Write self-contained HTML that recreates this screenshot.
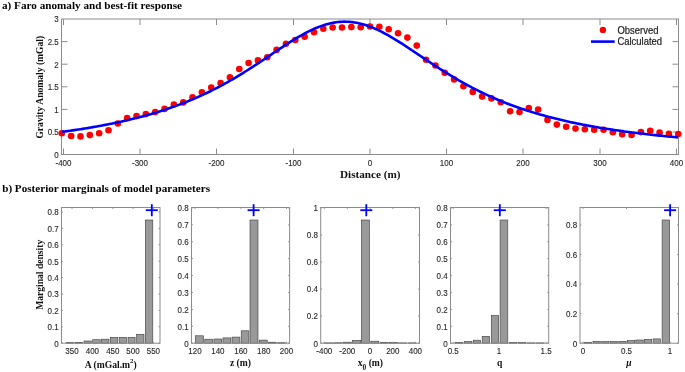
<!DOCTYPE html>
<html><head><meta charset="utf-8"><style>
html,body{margin:0;padding:0;background:#fff;}
body{width:685px;height:372px;overflow:hidden;}
svg{display:block;}
#w{will-change:transform;width:685px;height:372px;}
.tk{stroke:#262626;stroke-width:0.12px;}
</style></head><body>
<div id="w"><svg width="685" height="372" viewBox="0 0 685 372">
<rect width="685" height="372" fill="#fff"/>
<rect x="61.5" y="19.0" width="617.0" height="135.5" fill="none" stroke="#8c8c8c" stroke-width="1"/>
<line x1="63.5" y1="154.5" x2="63.5" y2="148.5" stroke="#8c8c8c" stroke-width="1"/>
<line x1="63.5" y1="19.0" x2="63.5" y2="25.0" stroke="#8c8c8c" stroke-width="1"/>
<text class="tk" transform="translate(63.5,165.9) scale(0.93,1)" font-size="8.6" text-anchor="middle" font-family='"Liberation Sans", sans-serif' fill="#262626">-400</text>
<line x1="140.0" y1="154.5" x2="140.0" y2="148.5" stroke="#8c8c8c" stroke-width="1"/>
<line x1="140.0" y1="19.0" x2="140.0" y2="25.0" stroke="#8c8c8c" stroke-width="1"/>
<text class="tk" transform="translate(140.0,165.9) scale(0.93,1)" font-size="8.6" text-anchor="middle" font-family='"Liberation Sans", sans-serif' fill="#262626">-300</text>
<line x1="216.5" y1="154.5" x2="216.5" y2="148.5" stroke="#8c8c8c" stroke-width="1"/>
<line x1="216.5" y1="19.0" x2="216.5" y2="25.0" stroke="#8c8c8c" stroke-width="1"/>
<text class="tk" transform="translate(216.5,165.9) scale(0.93,1)" font-size="8.6" text-anchor="middle" font-family='"Liberation Sans", sans-serif' fill="#262626">-200</text>
<line x1="293.5" y1="154.5" x2="293.5" y2="148.5" stroke="#8c8c8c" stroke-width="1"/>
<line x1="293.5" y1="19.0" x2="293.5" y2="25.0" stroke="#8c8c8c" stroke-width="1"/>
<text class="tk" transform="translate(293.5,165.9) scale(0.93,1)" font-size="8.6" text-anchor="middle" font-family='"Liberation Sans", sans-serif' fill="#262626">-100</text>
<line x1="370.0" y1="154.5" x2="370.0" y2="148.5" stroke="#8c8c8c" stroke-width="1"/>
<line x1="370.0" y1="19.0" x2="370.0" y2="25.0" stroke="#8c8c8c" stroke-width="1"/>
<text class="tk" transform="translate(370.0,165.9) scale(0.93,1)" font-size="8.6" text-anchor="middle" font-family='"Liberation Sans", sans-serif' fill="#262626">0</text>
<line x1="446.5" y1="154.5" x2="446.5" y2="148.5" stroke="#8c8c8c" stroke-width="1"/>
<line x1="446.5" y1="19.0" x2="446.5" y2="25.0" stroke="#8c8c8c" stroke-width="1"/>
<text class="tk" transform="translate(446.5,165.9) scale(0.93,1)" font-size="8.6" text-anchor="middle" font-family='"Liberation Sans", sans-serif' fill="#262626">100</text>
<line x1="523.0" y1="154.5" x2="523.0" y2="148.5" stroke="#8c8c8c" stroke-width="1"/>
<line x1="523.0" y1="19.0" x2="523.0" y2="25.0" stroke="#8c8c8c" stroke-width="1"/>
<text class="tk" transform="translate(523.0,165.9) scale(0.93,1)" font-size="8.6" text-anchor="middle" font-family='"Liberation Sans", sans-serif' fill="#262626">200</text>
<line x1="600.0" y1="154.5" x2="600.0" y2="148.5" stroke="#8c8c8c" stroke-width="1"/>
<line x1="600.0" y1="19.0" x2="600.0" y2="25.0" stroke="#8c8c8c" stroke-width="1"/>
<text class="tk" transform="translate(600.0,165.9) scale(0.93,1)" font-size="8.6" text-anchor="middle" font-family='"Liberation Sans", sans-serif' fill="#262626">300</text>
<line x1="676.5" y1="154.5" x2="676.5" y2="148.5" stroke="#8c8c8c" stroke-width="1"/>
<line x1="676.5" y1="19.0" x2="676.5" y2="25.0" stroke="#8c8c8c" stroke-width="1"/>
<text class="tk" transform="translate(676.5,165.9) scale(0.93,1)" font-size="8.6" text-anchor="middle" font-family='"Liberation Sans", sans-serif' fill="#262626">400</text>
<text class="tk" transform="translate(58.8,157.9) scale(0.93,1)" font-size="8.6" text-anchor="end" font-family='"Liberation Sans", sans-serif' fill="#262626">0</text>
<line x1="61.5" y1="132.0" x2="67.5" y2="132.0" stroke="#8c8c8c" stroke-width="1"/>
<line x1="678.5" y1="132.0" x2="672.5" y2="132.0" stroke="#8c8c8c" stroke-width="1"/>
<text class="tk" transform="translate(58.8,135.3) scale(0.93,1)" font-size="8.6" text-anchor="end" font-family='"Liberation Sans", sans-serif' fill="#262626">0.5</text>
<line x1="61.5" y1="109.39999999999999" x2="67.5" y2="109.39999999999999" stroke="#8c8c8c" stroke-width="1"/>
<line x1="678.5" y1="109.39999999999999" x2="672.5" y2="109.39999999999999" stroke="#8c8c8c" stroke-width="1"/>
<text class="tk" transform="translate(58.8,112.69999999999999) scale(0.93,1)" font-size="8.6" text-anchor="end" font-family='"Liberation Sans", sans-serif' fill="#262626">1</text>
<line x1="61.5" y1="86.79999999999998" x2="67.5" y2="86.79999999999998" stroke="#8c8c8c" stroke-width="1"/>
<line x1="678.5" y1="86.79999999999998" x2="672.5" y2="86.79999999999998" stroke="#8c8c8c" stroke-width="1"/>
<text class="tk" transform="translate(58.8,90.09999999999998) scale(0.93,1)" font-size="8.6" text-anchor="end" font-family='"Liberation Sans", sans-serif' fill="#262626">1.5</text>
<line x1="61.5" y1="64.19999999999999" x2="67.5" y2="64.19999999999999" stroke="#8c8c8c" stroke-width="1"/>
<line x1="678.5" y1="64.19999999999999" x2="672.5" y2="64.19999999999999" stroke="#8c8c8c" stroke-width="1"/>
<text class="tk" transform="translate(58.8,67.49999999999999) scale(0.93,1)" font-size="8.6" text-anchor="end" font-family='"Liberation Sans", sans-serif' fill="#262626">2</text>
<line x1="61.5" y1="41.599999999999994" x2="67.5" y2="41.599999999999994" stroke="#8c8c8c" stroke-width="1"/>
<line x1="678.5" y1="41.599999999999994" x2="672.5" y2="41.599999999999994" stroke="#8c8c8c" stroke-width="1"/>
<text class="tk" transform="translate(58.8,44.89999999999999) scale(0.93,1)" font-size="8.6" text-anchor="end" font-family='"Liberation Sans", sans-serif' fill="#262626">2.5</text>
<text class="tk" transform="translate(58.8,22.299999999999972) scale(0.93,1)" font-size="8.6" text-anchor="end" font-family='"Liberation Sans", sans-serif' fill="#262626">3</text>
<circle cx="61.80" cy="133.30" r="3.3" fill="#ff0000"/>
<circle cx="71.14" cy="136.00" r="3.3" fill="#ff0000"/>
<circle cx="80.48" cy="136.40" r="3.3" fill="#ff0000"/>
<circle cx="89.82" cy="135.10" r="3.3" fill="#ff0000"/>
<circle cx="99.16" cy="133.30" r="3.3" fill="#ff0000"/>
<circle cx="108.50" cy="130.20" r="3.3" fill="#ff0000"/>
<circle cx="117.84" cy="123.50" r="3.3" fill="#ff0000"/>
<circle cx="127.18" cy="118.10" r="3.3" fill="#ff0000"/>
<circle cx="136.52" cy="116.00" r="3.3" fill="#ff0000"/>
<circle cx="145.86" cy="114.10" r="3.3" fill="#ff0000"/>
<circle cx="155.20" cy="112.10" r="3.3" fill="#ff0000"/>
<circle cx="164.54" cy="108.90" r="3.3" fill="#ff0000"/>
<circle cx="173.88" cy="104.50" r="3.3" fill="#ff0000"/>
<circle cx="183.22" cy="102.40" r="3.3" fill="#ff0000"/>
<circle cx="192.56" cy="97.20" r="3.3" fill="#ff0000"/>
<circle cx="201.90" cy="92.20" r="3.3" fill="#ff0000"/>
<circle cx="211.24" cy="87.60" r="3.3" fill="#ff0000"/>
<circle cx="220.58" cy="83.00" r="3.3" fill="#ff0000"/>
<circle cx="229.92" cy="77.30" r="3.3" fill="#ff0000"/>
<circle cx="239.26" cy="69.00" r="3.3" fill="#ff0000"/>
<circle cx="248.60" cy="63.00" r="3.3" fill="#ff0000"/>
<circle cx="257.94" cy="60.40" r="3.3" fill="#ff0000"/>
<circle cx="267.28" cy="57.30" r="3.3" fill="#ff0000"/>
<circle cx="276.62" cy="49.90" r="3.3" fill="#ff0000"/>
<circle cx="285.96" cy="43.70" r="3.3" fill="#ff0000"/>
<circle cx="295.30" cy="40.00" r="3.3" fill="#ff0000"/>
<circle cx="304.64" cy="36.70" r="3.3" fill="#ff0000"/>
<circle cx="313.98" cy="32.30" r="3.3" fill="#ff0000"/>
<circle cx="323.32" cy="28.80" r="3.3" fill="#ff0000"/>
<circle cx="332.66" cy="27.50" r="3.3" fill="#ff0000"/>
<circle cx="342.00" cy="27.50" r="3.3" fill="#ff0000"/>
<circle cx="351.34" cy="27.10" r="3.3" fill="#ff0000"/>
<circle cx="360.68" cy="27.30" r="3.3" fill="#ff0000"/>
<circle cx="370.02" cy="26.50" r="3.3" fill="#ff0000"/>
<circle cx="379.36" cy="26.80" r="3.3" fill="#ff0000"/>
<circle cx="388.70" cy="29.20" r="3.3" fill="#ff0000"/>
<circle cx="398.04" cy="33.20" r="3.3" fill="#ff0000"/>
<circle cx="407.38" cy="37.60" r="3.3" fill="#ff0000"/>
<circle cx="416.72" cy="45.60" r="3.3" fill="#ff0000"/>
<circle cx="426.06" cy="59.80" r="3.3" fill="#ff0000"/>
<circle cx="435.40" cy="65.50" r="3.3" fill="#ff0000"/>
<circle cx="444.74" cy="72.70" r="3.3" fill="#ff0000"/>
<circle cx="454.08" cy="79.40" r="3.3" fill="#ff0000"/>
<circle cx="463.42" cy="86.30" r="3.3" fill="#ff0000"/>
<circle cx="472.76" cy="91.90" r="3.3" fill="#ff0000"/>
<circle cx="482.10" cy="96.60" r="3.3" fill="#ff0000"/>
<circle cx="491.44" cy="98.40" r="3.3" fill="#ff0000"/>
<circle cx="500.78" cy="102.30" r="3.3" fill="#ff0000"/>
<circle cx="510.12" cy="111.30" r="3.3" fill="#ff0000"/>
<circle cx="519.46" cy="112.00" r="3.3" fill="#ff0000"/>
<circle cx="528.80" cy="108.00" r="3.3" fill="#ff0000"/>
<circle cx="538.14" cy="109.50" r="3.3" fill="#ff0000"/>
<circle cx="547.48" cy="119.90" r="3.3" fill="#ff0000"/>
<circle cx="556.82" cy="124.60" r="3.3" fill="#ff0000"/>
<circle cx="566.16" cy="126.80" r="3.3" fill="#ff0000"/>
<circle cx="575.50" cy="128.60" r="3.3" fill="#ff0000"/>
<circle cx="584.84" cy="129.30" r="3.3" fill="#ff0000"/>
<circle cx="594.18" cy="129.70" r="3.3" fill="#ff0000"/>
<circle cx="603.52" cy="129.70" r="3.3" fill="#ff0000"/>
<circle cx="612.86" cy="132.30" r="3.3" fill="#ff0000"/>
<circle cx="622.20" cy="134.30" r="3.3" fill="#ff0000"/>
<circle cx="631.54" cy="135.00" r="3.3" fill="#ff0000"/>
<circle cx="640.88" cy="132.10" r="3.3" fill="#ff0000"/>
<circle cx="650.22" cy="130.80" r="3.3" fill="#ff0000"/>
<circle cx="659.56" cy="132.60" r="3.3" fill="#ff0000"/>
<circle cx="668.90" cy="133.90" r="3.3" fill="#ff0000"/>
<circle cx="678.24" cy="134.00" r="3.3" fill="#ff0000"/>
<path d="M62.00,131.85 L64.06,131.57 L66.12,131.29 L68.18,131.00 L70.24,130.71 L72.30,130.41 L74.36,130.11 L76.42,129.81 L78.48,129.50 L80.54,129.18 L82.60,128.86 L84.66,128.53 L86.72,128.19 L88.78,127.85 L90.84,127.51 L92.90,127.15 L94.96,126.80 L97.02,126.43 L99.08,126.06 L101.14,125.68 L103.20,125.29 L105.26,124.90 L107.32,124.50 L109.38,124.09 L111.44,123.68 L113.51,123.26 L115.57,122.83 L117.63,122.39 L119.69,121.94 L121.75,121.49 L123.81,121.03 L125.87,120.56 L127.93,120.08 L129.99,119.59 L132.05,119.09 L134.11,118.58 L136.17,118.06 L138.23,117.53 L140.29,117.00 L142.35,116.45 L144.41,115.89 L146.47,115.32 L148.53,114.74 L150.59,114.15 L152.65,113.55 L154.71,112.94 L156.77,112.31 L158.83,111.68 L160.89,111.03 L162.95,110.37 L165.01,109.69 L167.07,109.00 L169.13,108.30 L171.19,107.59 L173.25,106.86 L175.31,106.12 L177.37,105.37 L179.43,104.60 L181.49,103.81 L183.55,103.02 L185.61,102.20 L187.67,101.37 L189.73,100.53 L191.79,99.67 L193.85,98.80 L195.91,97.91 L197.97,97.00 L200.03,96.07 L202.09,95.13 L204.15,94.18 L206.21,93.21 L208.27,92.22 L210.33,91.21 L212.39,90.18 L214.45,89.14 L216.52,88.09 L218.58,87.01 L220.64,85.92 L222.70,84.81 L224.76,83.68 L226.82,82.54 L228.88,81.38 L230.94,80.20 L233.00,79.01 L235.06,77.80 L237.12,76.57 L239.18,75.33 L241.24,74.08 L243.30,72.81 L245.36,71.52 L247.42,70.23 L249.48,68.92 L251.54,67.59 L253.60,66.26 L255.66,64.92 L257.72,63.56 L259.78,62.20 L261.84,60.83 L263.90,59.46 L265.96,58.08 L268.02,56.70 L270.08,55.31 L272.14,53.92 L274.20,52.54 L276.26,51.16 L278.32,49.78 L280.38,48.41 L282.44,47.05 L284.50,45.69 L286.56,44.35 L288.62,43.03 L290.68,41.72 L292.74,40.44 L294.80,39.17 L296.86,37.93 L298.92,36.71 L300.98,35.53 L303.04,34.38 L305.10,33.26 L307.16,32.18 L309.22,31.14 L311.28,30.14 L313.34,29.18 L315.40,28.28 L317.46,27.42 L319.53,26.61 L321.59,25.86 L323.65,25.17 L325.71,24.53 L327.77,23.95 L329.83,23.44 L331.89,22.98 L333.95,22.60 L336.01,22.27 L338.07,22.02 L340.13,21.83 L342.19,21.71 L344.25,21.66 L346.31,21.68 L348.37,21.76 L350.43,21.92 L352.49,22.14 L354.55,22.43 L356.61,22.78 L358.67,23.20 L360.73,23.69 L362.79,24.24 L364.85,24.84 L366.91,25.51 L368.97,26.23 L371.03,27.01 L373.09,27.85 L375.15,28.73 L377.21,29.66 L379.27,30.64 L381.33,31.66 L383.39,32.72 L385.45,33.82 L387.51,34.96 L389.57,36.12 L391.63,37.32 L393.69,38.55 L395.75,39.81 L397.81,41.08 L399.87,42.38 L401.93,43.70 L403.99,45.03 L406.05,46.38 L408.11,47.73 L410.17,49.10 L412.23,50.47 L414.29,51.85 L416.35,53.24 L418.41,54.62 L420.47,56.01 L422.54,57.39 L424.60,58.78 L426.66,60.15 L428.72,61.53 L430.78,62.89 L432.84,64.25 L434.90,65.60 L436.96,66.94 L439.02,68.26 L441.08,69.58 L443.14,70.88 L445.20,72.18 L447.26,73.45 L449.32,74.72 L451.38,75.96 L453.44,77.20 L455.50,78.41 L457.56,79.61 L459.62,80.80 L461.68,81.97 L463.74,83.12 L465.80,84.25 L467.86,85.37 L469.92,86.47 L471.98,87.56 L474.04,88.62 L476.10,89.67 L478.16,90.70 L480.22,91.72 L482.28,92.72 L484.34,93.70 L486.40,94.66 L488.46,95.61 L490.52,96.54 L492.58,97.46 L494.64,98.36 L496.70,99.24 L498.76,100.11 L500.82,100.96 L502.88,101.79 L504.94,102.62 L507.00,103.42 L509.06,104.21 L511.12,104.99 L513.18,105.75 L515.24,106.50 L517.30,107.23 L519.36,107.95 L521.42,108.66 L523.48,109.35 L525.55,110.03 L527.61,110.70 L529.67,111.36 L531.73,112.00 L533.79,112.63 L535.85,113.25 L537.91,113.86 L539.97,114.45 L542.03,115.04 L544.09,115.61 L546.15,116.18 L548.21,116.73 L550.27,117.27 L552.33,117.80 L554.39,118.33 L556.45,118.84 L558.51,119.34 L560.57,119.84 L562.63,120.32 L564.69,120.80 L566.75,121.26 L568.81,121.72 L570.87,122.17 L572.93,122.61 L574.99,123.05 L577.05,123.47 L579.11,123.89 L581.17,124.30 L583.23,124.70 L585.29,125.10 L587.35,125.49 L589.41,125.87 L591.47,126.25 L593.53,126.62 L595.59,126.98 L597.65,127.33 L599.71,127.68 L601.77,128.03 L603.83,128.36 L605.89,128.69 L607.95,129.02 L610.01,129.34 L612.07,129.65 L614.13,129.96 L616.19,130.27 L618.25,130.56 L620.31,130.86 L622.37,131.15 L624.43,131.43 L626.49,131.71 L628.56,131.98 L630.62,132.25 L632.68,132.52 L634.74,132.78 L636.80,133.04 L638.86,133.29 L640.92,133.54 L642.98,133.78 L645.04,134.02 L647.10,134.26 L649.16,134.49 L651.22,134.72 L653.28,134.94 L655.34,135.16 L657.40,135.38 L659.46,135.60 L661.52,135.81 L663.58,136.01 L665.64,136.22 L667.70,136.42 L669.76,136.62 L671.82,136.81 L673.88,137.01 L675.94,137.20 L678.00,137.38" fill="none" stroke="#0000ff" stroke-width="2.6" stroke-linejoin="round"/>
<circle cx="602.9" cy="29.9" r="3.2" fill="#ff0000"/>
<line x1="591" y1="41.6" x2="614.7" y2="41.6" stroke="#0000ff" stroke-width="2.6"/>
<text transform="translate(617.4,34.0) scale(0.91,1)" font-size="10.4" font-family='"Liberation Sans", sans-serif' fill="#1a1a1a" stroke="#1a1a1a" stroke-width="0.2">Observed</text>
<text transform="translate(617.4,45.2) scale(0.91,1)" font-size="10.4" font-family='"Liberation Sans", sans-serif' fill="#1a1a1a" stroke="#1a1a1a" stroke-width="0.2">Calculated</text>
<text x="2.0" y="9.0" font-size="10.5" text-anchor="start" font-family='"Liberation Serif", serif' font-weight="bold" font-style="normal" fill="#000" textLength="180" lengthAdjust="spacingAndGlyphs">a) Faro anomaly and best-fit response</text>
<text x="370.3" y="177.6" font-size="10.5" text-anchor="middle" font-family='"Liberation Serif", serif' font-weight="bold" font-style="normal" fill="#111" textLength="60.5" lengthAdjust="spacingAndGlyphs">Distance (m)</text>
<text x="0" y="0" font-size="9.6" text-anchor="middle" font-family='"Liberation Serif", serif' font-weight="bold" font-style="normal" fill="#111" transform="translate(43.2,87.2) rotate(-90)">Gravity Anomaly (mGal)</text>
<text x="2.2" y="192.2" font-size="10.5" text-anchor="start" font-family='"Liberation Serif", serif' font-weight="bold" font-style="normal" fill="#000" textLength="207.8" lengthAdjust="spacingAndGlyphs">b) Posterior marginals of model parameters</text>
<rect x="66.10" y="342.50" width="7.40" height="0.70" fill="#999999" stroke="#3a3a3a" stroke-width="0.6"/>
<rect x="75.00" y="342.40" width="7.40" height="0.80" fill="#999999" stroke="#3a3a3a" stroke-width="0.6"/>
<rect x="84.00" y="341.00" width="7.30" height="2.20" fill="#999999" stroke="#3a3a3a" stroke-width="0.6"/>
<rect x="92.70" y="339.70" width="7.50" height="3.50" fill="#999999" stroke="#3a3a3a" stroke-width="0.6"/>
<rect x="101.40" y="339.20" width="7.60" height="4.00" fill="#999999" stroke="#3a3a3a" stroke-width="0.6"/>
<rect x="110.30" y="337.40" width="7.50" height="5.80" fill="#999999" stroke="#3a3a3a" stroke-width="0.6"/>
<rect x="119.20" y="337.30" width="7.20" height="5.90" fill="#999999" stroke="#3a3a3a" stroke-width="0.6"/>
<rect x="128.00" y="337.30" width="7.10" height="5.90" fill="#999999" stroke="#3a3a3a" stroke-width="0.6"/>
<rect x="136.60" y="334.30" width="7.40" height="8.90" fill="#999999" stroke="#3a3a3a" stroke-width="0.6"/>
<rect x="145.30" y="220.00" width="7.50" height="123.20" fill="#999999" stroke="#3a3a3a" stroke-width="0.6"/>
<rect x="61.5" y="207.5" width="98.5" height="135.7" fill="none" stroke="#8c8c8c" stroke-width="1"/>
<line x1="61.5" y1="343.2" x2="62.9" y2="343.2" stroke="#8c8c8c" stroke-width="1"/>
<line x1="160.0" y1="343.2" x2="158.6" y2="343.2" stroke="#8c8c8c" stroke-width="1"/>
<text class="tk" transform="translate(58.7,346.5) scale(0.93,1)" font-size="8.6" text-anchor="end" font-family='"Liberation Sans", sans-serif' fill="#262626">0</text>
<line x1="61.5" y1="326.8" x2="62.9" y2="326.8" stroke="#8c8c8c" stroke-width="1"/>
<line x1="160.0" y1="326.8" x2="158.6" y2="326.8" stroke="#8c8c8c" stroke-width="1"/>
<text class="tk" transform="translate(58.7,330.1) scale(0.93,1)" font-size="8.6" text-anchor="end" font-family='"Liberation Sans", sans-serif' fill="#262626">0.1</text>
<line x1="61.5" y1="310.4" x2="62.9" y2="310.4" stroke="#8c8c8c" stroke-width="1"/>
<line x1="160.0" y1="310.4" x2="158.6" y2="310.4" stroke="#8c8c8c" stroke-width="1"/>
<text class="tk" transform="translate(58.7,313.7) scale(0.93,1)" font-size="8.6" text-anchor="end" font-family='"Liberation Sans", sans-serif' fill="#262626">0.2</text>
<line x1="61.5" y1="294.0" x2="62.9" y2="294.0" stroke="#8c8c8c" stroke-width="1"/>
<line x1="160.0" y1="294.0" x2="158.6" y2="294.0" stroke="#8c8c8c" stroke-width="1"/>
<text class="tk" transform="translate(58.7,297.3) scale(0.93,1)" font-size="8.6" text-anchor="end" font-family='"Liberation Sans", sans-serif' fill="#262626">0.3</text>
<line x1="61.5" y1="277.6" x2="62.9" y2="277.6" stroke="#8c8c8c" stroke-width="1"/>
<line x1="160.0" y1="277.6" x2="158.6" y2="277.6" stroke="#8c8c8c" stroke-width="1"/>
<text class="tk" transform="translate(58.7,280.90000000000003) scale(0.93,1)" font-size="8.6" text-anchor="end" font-family='"Liberation Sans", sans-serif' fill="#262626">0.4</text>
<line x1="61.5" y1="261.2" x2="62.9" y2="261.2" stroke="#8c8c8c" stroke-width="1"/>
<line x1="160.0" y1="261.2" x2="158.6" y2="261.2" stroke="#8c8c8c" stroke-width="1"/>
<text class="tk" transform="translate(58.7,264.5) scale(0.93,1)" font-size="8.6" text-anchor="end" font-family='"Liberation Sans", sans-serif' fill="#262626">0.5</text>
<line x1="61.5" y1="244.8" x2="62.9" y2="244.8" stroke="#8c8c8c" stroke-width="1"/>
<line x1="160.0" y1="244.8" x2="158.6" y2="244.8" stroke="#8c8c8c" stroke-width="1"/>
<text class="tk" transform="translate(58.7,248.10000000000002) scale(0.93,1)" font-size="8.6" text-anchor="end" font-family='"Liberation Sans", sans-serif' fill="#262626">0.6</text>
<line x1="61.5" y1="228.4" x2="62.9" y2="228.4" stroke="#8c8c8c" stroke-width="1"/>
<line x1="160.0" y1="228.4" x2="158.6" y2="228.4" stroke="#8c8c8c" stroke-width="1"/>
<text class="tk" transform="translate(58.7,231.70000000000002) scale(0.93,1)" font-size="8.6" text-anchor="end" font-family='"Liberation Sans", sans-serif' fill="#262626">0.7</text>
<line x1="61.5" y1="212.0" x2="62.9" y2="212.0" stroke="#8c8c8c" stroke-width="1"/>
<line x1="160.0" y1="212.0" x2="158.6" y2="212.0" stroke="#8c8c8c" stroke-width="1"/>
<text class="tk" transform="translate(58.7,215.3) scale(0.93,1)" font-size="8.6" text-anchor="end" font-family='"Liberation Sans", sans-serif' fill="#262626">0.8</text>
<line x1="72" y1="343.2" x2="72" y2="341.8" stroke="#8c8c8c" stroke-width="1"/>
<line x1="72" y1="207.5" x2="72" y2="208.9" stroke="#8c8c8c" stroke-width="1"/>
<text class="tk" transform="translate(72,354.4) scale(0.93,1)" font-size="8.6" text-anchor="middle" font-family='"Liberation Sans", sans-serif' fill="#262626">350</text>
<line x1="92.4" y1="343.2" x2="92.4" y2="341.8" stroke="#8c8c8c" stroke-width="1"/>
<line x1="92.4" y1="207.5" x2="92.4" y2="208.9" stroke="#8c8c8c" stroke-width="1"/>
<text class="tk" transform="translate(92.4,354.4) scale(0.93,1)" font-size="8.6" text-anchor="middle" font-family='"Liberation Sans", sans-serif' fill="#262626">400</text>
<line x1="112.8" y1="343.2" x2="112.8" y2="341.8" stroke="#8c8c8c" stroke-width="1"/>
<line x1="112.8" y1="207.5" x2="112.8" y2="208.9" stroke="#8c8c8c" stroke-width="1"/>
<text class="tk" transform="translate(112.8,354.4) scale(0.93,1)" font-size="8.6" text-anchor="middle" font-family='"Liberation Sans", sans-serif' fill="#262626">450</text>
<line x1="133" y1="343.2" x2="133" y2="341.8" stroke="#8c8c8c" stroke-width="1"/>
<line x1="133" y1="207.5" x2="133" y2="208.9" stroke="#8c8c8c" stroke-width="1"/>
<text class="tk" transform="translate(133,354.4) scale(0.93,1)" font-size="8.6" text-anchor="middle" font-family='"Liberation Sans", sans-serif' fill="#262626">500</text>
<line x1="153.4" y1="343.2" x2="153.4" y2="341.8" stroke="#8c8c8c" stroke-width="1"/>
<line x1="153.4" y1="207.5" x2="153.4" y2="208.9" stroke="#8c8c8c" stroke-width="1"/>
<text class="tk" transform="translate(153.4,354.4) scale(0.93,1)" font-size="8.6" text-anchor="middle" font-family='"Liberation Sans", sans-serif' fill="#262626">550</text>
<line x1="145.8" y1="210.2" x2="157.8" y2="210.2" stroke="#0000ff" stroke-width="1.8"/>
<line x1="151.8" y1="204.2" x2="151.8" y2="216.2" stroke="#0000ff" stroke-width="1.8"/>
<text x="110.7" y="368.2" font-size="9.6" text-anchor="middle" font-family='"Liberation Serif", serif' font-weight="bold" font-style="normal" fill="#111" >A (mGal.m<tspan dy="-5.3" font-size="6.8">2</tspan><tspan dy="5.3">)</tspan></text>
<rect x="195.40" y="335.80" width="8.10" height="7.40" fill="#999999" stroke="#3a3a3a" stroke-width="0.6"/>
<rect x="204.80" y="339.20" width="7.80" height="4.00" fill="#999999" stroke="#3a3a3a" stroke-width="0.6"/>
<rect x="213.90" y="339.00" width="7.70" height="4.20" fill="#999999" stroke="#3a3a3a" stroke-width="0.6"/>
<rect x="222.90" y="337.90" width="7.90" height="5.30" fill="#999999" stroke="#3a3a3a" stroke-width="0.6"/>
<rect x="232.00" y="337.10" width="7.90" height="6.10" fill="#999999" stroke="#3a3a3a" stroke-width="0.6"/>
<rect x="241.20" y="330.80" width="7.70" height="12.40" fill="#999999" stroke="#3a3a3a" stroke-width="0.6"/>
<rect x="250.00" y="220.00" width="8.00" height="123.20" fill="#999999" stroke="#3a3a3a" stroke-width="0.6"/>
<rect x="259.20" y="340.10" width="8.00" height="3.10" fill="#999999" stroke="#3a3a3a" stroke-width="0.6"/>
<rect x="268.30" y="342.20" width="7.90" height="1.00" fill="#999999" stroke="#3a3a3a" stroke-width="0.6"/>
<rect x="277.70" y="342.70" width="7.70" height="0.50" fill="#999999" stroke="#3a3a3a" stroke-width="0.6"/>
<rect x="191.5" y="207.5" width="98.10000000000002" height="135.7" fill="none" stroke="#8c8c8c" stroke-width="1"/>
<line x1="191.5" y1="343.2" x2="192.9" y2="343.2" stroke="#8c8c8c" stroke-width="1"/>
<line x1="289.6" y1="343.2" x2="288.20000000000005" y2="343.2" stroke="#8c8c8c" stroke-width="1"/>
<text class="tk" transform="translate(188.7,346.5) scale(0.93,1)" font-size="8.6" text-anchor="end" font-family='"Liberation Sans", sans-serif' fill="#262626">0</text>
<line x1="191.5" y1="326.28999999999996" x2="192.9" y2="326.28999999999996" stroke="#8c8c8c" stroke-width="1"/>
<line x1="289.6" y1="326.28999999999996" x2="288.20000000000005" y2="326.28999999999996" stroke="#8c8c8c" stroke-width="1"/>
<text class="tk" transform="translate(188.7,329.59) scale(0.93,1)" font-size="8.6" text-anchor="end" font-family='"Liberation Sans", sans-serif' fill="#262626">0.1</text>
<line x1="191.5" y1="309.38" x2="192.9" y2="309.38" stroke="#8c8c8c" stroke-width="1"/>
<line x1="289.6" y1="309.38" x2="288.20000000000005" y2="309.38" stroke="#8c8c8c" stroke-width="1"/>
<text class="tk" transform="translate(188.7,312.68) scale(0.93,1)" font-size="8.6" text-anchor="end" font-family='"Liberation Sans", sans-serif' fill="#262626">0.2</text>
<line x1="191.5" y1="292.46999999999997" x2="192.9" y2="292.46999999999997" stroke="#8c8c8c" stroke-width="1"/>
<line x1="289.6" y1="292.46999999999997" x2="288.20000000000005" y2="292.46999999999997" stroke="#8c8c8c" stroke-width="1"/>
<text class="tk" transform="translate(188.7,295.77) scale(0.93,1)" font-size="8.6" text-anchor="end" font-family='"Liberation Sans", sans-serif' fill="#262626">0.3</text>
<line x1="191.5" y1="275.56" x2="192.9" y2="275.56" stroke="#8c8c8c" stroke-width="1"/>
<line x1="289.6" y1="275.56" x2="288.20000000000005" y2="275.56" stroke="#8c8c8c" stroke-width="1"/>
<text class="tk" transform="translate(188.7,278.86) scale(0.93,1)" font-size="8.6" text-anchor="end" font-family='"Liberation Sans", sans-serif' fill="#262626">0.4</text>
<line x1="191.5" y1="258.65" x2="192.9" y2="258.65" stroke="#8c8c8c" stroke-width="1"/>
<line x1="289.6" y1="258.65" x2="288.20000000000005" y2="258.65" stroke="#8c8c8c" stroke-width="1"/>
<text class="tk" transform="translate(188.7,261.95) scale(0.93,1)" font-size="8.6" text-anchor="end" font-family='"Liberation Sans", sans-serif' fill="#262626">0.5</text>
<line x1="191.5" y1="241.73999999999998" x2="192.9" y2="241.73999999999998" stroke="#8c8c8c" stroke-width="1"/>
<line x1="289.6" y1="241.73999999999998" x2="288.20000000000005" y2="241.73999999999998" stroke="#8c8c8c" stroke-width="1"/>
<text class="tk" transform="translate(188.7,245.04) scale(0.93,1)" font-size="8.6" text-anchor="end" font-family='"Liberation Sans", sans-serif' fill="#262626">0.6</text>
<line x1="191.5" y1="224.82999999999998" x2="192.9" y2="224.82999999999998" stroke="#8c8c8c" stroke-width="1"/>
<line x1="289.6" y1="224.82999999999998" x2="288.20000000000005" y2="224.82999999999998" stroke="#8c8c8c" stroke-width="1"/>
<text class="tk" transform="translate(188.7,228.13) scale(0.93,1)" font-size="8.6" text-anchor="end" font-family='"Liberation Sans", sans-serif' fill="#262626">0.7</text>
<line x1="191.5" y1="207.92" x2="192.9" y2="207.92" stroke="#8c8c8c" stroke-width="1"/>
<line x1="289.6" y1="207.92" x2="288.20000000000005" y2="207.92" stroke="#8c8c8c" stroke-width="1"/>
<text class="tk" transform="translate(188.7,211.22) scale(0.93,1)" font-size="8.6" text-anchor="end" font-family='"Liberation Sans", sans-serif' fill="#262626">0.8</text>
<line x1="195" y1="343.2" x2="195" y2="341.8" stroke="#8c8c8c" stroke-width="1"/>
<line x1="195" y1="207.5" x2="195" y2="208.9" stroke="#8c8c8c" stroke-width="1"/>
<text class="tk" transform="translate(195,354.4) scale(0.93,1)" font-size="8.6" text-anchor="middle" font-family='"Liberation Sans", sans-serif' fill="#262626">120</text>
<line x1="217.9" y1="343.2" x2="217.9" y2="341.8" stroke="#8c8c8c" stroke-width="1"/>
<line x1="217.9" y1="207.5" x2="217.9" y2="208.9" stroke="#8c8c8c" stroke-width="1"/>
<text class="tk" transform="translate(217.9,354.4) scale(0.93,1)" font-size="8.6" text-anchor="middle" font-family='"Liberation Sans", sans-serif' fill="#262626">140</text>
<line x1="240.9" y1="343.2" x2="240.9" y2="341.8" stroke="#8c8c8c" stroke-width="1"/>
<line x1="240.9" y1="207.5" x2="240.9" y2="208.9" stroke="#8c8c8c" stroke-width="1"/>
<text class="tk" transform="translate(240.9,354.4) scale(0.93,1)" font-size="8.6" text-anchor="middle" font-family='"Liberation Sans", sans-serif' fill="#262626">160</text>
<line x1="263.7" y1="343.2" x2="263.7" y2="341.8" stroke="#8c8c8c" stroke-width="1"/>
<line x1="263.7" y1="207.5" x2="263.7" y2="208.9" stroke="#8c8c8c" stroke-width="1"/>
<text class="tk" transform="translate(263.7,354.4) scale(0.93,1)" font-size="8.6" text-anchor="middle" font-family='"Liberation Sans", sans-serif' fill="#262626">180</text>
<line x1="286.5" y1="343.2" x2="286.5" y2="341.8" stroke="#8c8c8c" stroke-width="1"/>
<line x1="286.5" y1="207.5" x2="286.5" y2="208.9" stroke="#8c8c8c" stroke-width="1"/>
<text class="tk" transform="translate(286.5,354.4) scale(0.93,1)" font-size="8.6" text-anchor="middle" font-family='"Liberation Sans", sans-serif' fill="#262626">200</text>
<line x1="247.6" y1="210.2" x2="259.6" y2="210.2" stroke="#0000ff" stroke-width="1.8"/>
<line x1="253.6" y1="204.2" x2="253.6" y2="216.2" stroke="#0000ff" stroke-width="1.8"/>
<text x="240.4" y="365.9" font-size="9.6" text-anchor="middle" font-family='"Liberation Serif", serif' font-weight="bold" font-style="normal" fill="#111" >z (m)</text>
<rect x="324.30" y="342.90" width="8.90" height="0.30" fill="#999999" stroke="#3a3a3a" stroke-width="0.6"/>
<rect x="334.00" y="342.80" width="8.20" height="0.40" fill="#999999" stroke="#3a3a3a" stroke-width="0.6"/>
<rect x="343.20" y="342.20" width="8.40" height="1.00" fill="#999999" stroke="#3a3a3a" stroke-width="0.6"/>
<rect x="352.50" y="340.30" width="8.20" height="2.90" fill="#999999" stroke="#3a3a3a" stroke-width="0.6"/>
<rect x="361.40" y="220.00" width="8.00" height="123.20" fill="#999999" stroke="#3a3a3a" stroke-width="0.6"/>
<rect x="370.80" y="341.20" width="8.00" height="2.00" fill="#999999" stroke="#3a3a3a" stroke-width="0.6"/>
<rect x="380.20" y="342.30" width="8.00" height="0.90" fill="#999999" stroke="#3a3a3a" stroke-width="0.6"/>
<rect x="389.60" y="342.60" width="7.70" height="0.60" fill="#999999" stroke="#3a3a3a" stroke-width="0.6"/>
<rect x="398.60" y="342.90" width="8.10" height="0.30" fill="#999999" stroke="#3a3a3a" stroke-width="0.6"/>
<rect x="408.20" y="342.90" width="7.90" height="0.30" fill="#999999" stroke="#3a3a3a" stroke-width="0.6"/>
<rect x="320.7" y="207.5" width="98.80000000000001" height="135.7" fill="none" stroke="#8c8c8c" stroke-width="1"/>
<line x1="320.7" y1="343.2" x2="322.09999999999997" y2="343.2" stroke="#8c8c8c" stroke-width="1"/>
<line x1="419.5" y1="343.2" x2="418.1" y2="343.2" stroke="#8c8c8c" stroke-width="1"/>
<text class="tk" transform="translate(317.9,346.5) scale(0.93,1)" font-size="8.6" text-anchor="end" font-family='"Liberation Sans", sans-serif' fill="#262626">0</text>
<line x1="320.7" y1="316.1" x2="322.09999999999997" y2="316.1" stroke="#8c8c8c" stroke-width="1"/>
<line x1="419.5" y1="316.1" x2="418.1" y2="316.1" stroke="#8c8c8c" stroke-width="1"/>
<text class="tk" transform="translate(317.9,319.40000000000003) scale(0.93,1)" font-size="8.6" text-anchor="end" font-family='"Liberation Sans", sans-serif' fill="#262626">0.2</text>
<line x1="320.7" y1="289.1" x2="322.09999999999997" y2="289.1" stroke="#8c8c8c" stroke-width="1"/>
<line x1="419.5" y1="289.1" x2="418.1" y2="289.1" stroke="#8c8c8c" stroke-width="1"/>
<text class="tk" transform="translate(317.9,292.40000000000003) scale(0.93,1)" font-size="8.6" text-anchor="end" font-family='"Liberation Sans", sans-serif' fill="#262626">0.4</text>
<line x1="320.7" y1="262.0" x2="322.09999999999997" y2="262.0" stroke="#8c8c8c" stroke-width="1"/>
<line x1="419.5" y1="262.0" x2="418.1" y2="262.0" stroke="#8c8c8c" stroke-width="1"/>
<text class="tk" transform="translate(317.9,265.3) scale(0.93,1)" font-size="8.6" text-anchor="end" font-family='"Liberation Sans", sans-serif' fill="#262626">0.6</text>
<line x1="320.7" y1="235.0" x2="322.09999999999997" y2="235.0" stroke="#8c8c8c" stroke-width="1"/>
<line x1="419.5" y1="235.0" x2="418.1" y2="235.0" stroke="#8c8c8c" stroke-width="1"/>
<text class="tk" transform="translate(317.9,238.3) scale(0.93,1)" font-size="8.6" text-anchor="end" font-family='"Liberation Sans", sans-serif' fill="#262626">0.8</text>
<line x1="320.7" y1="207.9" x2="322.09999999999997" y2="207.9" stroke="#8c8c8c" stroke-width="1"/>
<line x1="419.5" y1="207.9" x2="418.1" y2="207.9" stroke="#8c8c8c" stroke-width="1"/>
<text class="tk" transform="translate(317.9,211.20000000000002) scale(0.93,1)" font-size="8.6" text-anchor="end" font-family='"Liberation Sans", sans-serif' fill="#262626">1</text>
<line x1="324.3" y1="343.2" x2="324.3" y2="341.8" stroke="#8c8c8c" stroke-width="1"/>
<line x1="324.3" y1="207.5" x2="324.3" y2="208.9" stroke="#8c8c8c" stroke-width="1"/>
<text class="tk" transform="translate(324.3,354.4) scale(0.93,1)" font-size="8.6" text-anchor="middle" font-family='"Liberation Sans", sans-serif' fill="#262626">-400</text>
<line x1="347.3" y1="343.2" x2="347.3" y2="341.8" stroke="#8c8c8c" stroke-width="1"/>
<line x1="347.3" y1="207.5" x2="347.3" y2="208.9" stroke="#8c8c8c" stroke-width="1"/>
<text class="tk" transform="translate(347.3,354.4) scale(0.93,1)" font-size="8.6" text-anchor="middle" font-family='"Liberation Sans", sans-serif' fill="#262626">-200</text>
<line x1="370.1" y1="343.2" x2="370.1" y2="341.8" stroke="#8c8c8c" stroke-width="1"/>
<line x1="370.1" y1="207.5" x2="370.1" y2="208.9" stroke="#8c8c8c" stroke-width="1"/>
<text class="tk" transform="translate(370.1,354.4) scale(0.93,1)" font-size="8.6" text-anchor="middle" font-family='"Liberation Sans", sans-serif' fill="#262626">0</text>
<line x1="392.8" y1="343.2" x2="392.8" y2="341.8" stroke="#8c8c8c" stroke-width="1"/>
<line x1="392.8" y1="207.5" x2="392.8" y2="208.9" stroke="#8c8c8c" stroke-width="1"/>
<text class="tk" transform="translate(392.8,354.4) scale(0.93,1)" font-size="8.6" text-anchor="middle" font-family='"Liberation Sans", sans-serif' fill="#262626">200</text>
<line x1="415.4" y1="343.2" x2="415.4" y2="341.8" stroke="#8c8c8c" stroke-width="1"/>
<line x1="415.4" y1="207.5" x2="415.4" y2="208.9" stroke="#8c8c8c" stroke-width="1"/>
<text class="tk" transform="translate(415.4,354.4) scale(0.93,1)" font-size="8.6" text-anchor="middle" font-family='"Liberation Sans", sans-serif' fill="#262626">400</text>
<line x1="360.3" y1="210.2" x2="372.3" y2="210.2" stroke="#0000ff" stroke-width="1.8"/>
<line x1="366.3" y1="204.2" x2="366.3" y2="216.2" stroke="#0000ff" stroke-width="1.8"/>
<text x="370.4" y="365.9" font-size="9.6" text-anchor="middle" font-family='"Liberation Serif", serif' font-weight="bold" font-style="normal" fill="#111" >x<tspan dy="4" font-size="7.4">0</tspan><tspan dy="-4"> (m)</tspan></text>
<rect x="455.10" y="342.50" width="7.70" height="0.70" fill="#999999" stroke="#3a3a3a" stroke-width="0.6"/>
<rect x="464.20" y="341.50" width="7.80" height="1.70" fill="#999999" stroke="#3a3a3a" stroke-width="0.6"/>
<rect x="473.30" y="340.20" width="7.40" height="3.00" fill="#999999" stroke="#3a3a3a" stroke-width="0.6"/>
<rect x="482.20" y="336.30" width="7.40" height="6.90" fill="#999999" stroke="#3a3a3a" stroke-width="0.6"/>
<rect x="491.30" y="315.50" width="7.40" height="27.70" fill="#999999" stroke="#3a3a3a" stroke-width="0.6"/>
<rect x="500.10" y="220.00" width="7.70" height="123.20" fill="#999999" stroke="#3a3a3a" stroke-width="0.6"/>
<rect x="509.30" y="342.60" width="7.60" height="0.60" fill="#999999" stroke="#3a3a3a" stroke-width="0.6"/>
<rect x="518.40" y="342.60" width="7.40" height="0.60" fill="#999999" stroke="#3a3a3a" stroke-width="0.6"/>
<rect x="527.10" y="342.90" width="7.80" height="0.30" fill="#999999" stroke="#3a3a3a" stroke-width="0.6"/>
<rect x="536.20" y="342.90" width="7.80" height="0.30" fill="#999999" stroke="#3a3a3a" stroke-width="0.6"/>
<rect x="450.5" y="207.5" width="98.20000000000005" height="135.7" fill="none" stroke="#8c8c8c" stroke-width="1"/>
<line x1="450.5" y1="343.2" x2="451.9" y2="343.2" stroke="#8c8c8c" stroke-width="1"/>
<line x1="548.7" y1="343.2" x2="547.3000000000001" y2="343.2" stroke="#8c8c8c" stroke-width="1"/>
<text class="tk" transform="translate(447.7,346.5) scale(0.93,1)" font-size="8.6" text-anchor="end" font-family='"Liberation Sans", sans-serif' fill="#262626">0</text>
<line x1="450.5" y1="326.28999999999996" x2="451.9" y2="326.28999999999996" stroke="#8c8c8c" stroke-width="1"/>
<line x1="548.7" y1="326.28999999999996" x2="547.3000000000001" y2="326.28999999999996" stroke="#8c8c8c" stroke-width="1"/>
<text class="tk" transform="translate(447.7,329.59) scale(0.93,1)" font-size="8.6" text-anchor="end" font-family='"Liberation Sans", sans-serif' fill="#262626">0.1</text>
<line x1="450.5" y1="309.38" x2="451.9" y2="309.38" stroke="#8c8c8c" stroke-width="1"/>
<line x1="548.7" y1="309.38" x2="547.3000000000001" y2="309.38" stroke="#8c8c8c" stroke-width="1"/>
<text class="tk" transform="translate(447.7,312.68) scale(0.93,1)" font-size="8.6" text-anchor="end" font-family='"Liberation Sans", sans-serif' fill="#262626">0.2</text>
<line x1="450.5" y1="292.46999999999997" x2="451.9" y2="292.46999999999997" stroke="#8c8c8c" stroke-width="1"/>
<line x1="548.7" y1="292.46999999999997" x2="547.3000000000001" y2="292.46999999999997" stroke="#8c8c8c" stroke-width="1"/>
<text class="tk" transform="translate(447.7,295.77) scale(0.93,1)" font-size="8.6" text-anchor="end" font-family='"Liberation Sans", sans-serif' fill="#262626">0.3</text>
<line x1="450.5" y1="275.56" x2="451.9" y2="275.56" stroke="#8c8c8c" stroke-width="1"/>
<line x1="548.7" y1="275.56" x2="547.3000000000001" y2="275.56" stroke="#8c8c8c" stroke-width="1"/>
<text class="tk" transform="translate(447.7,278.86) scale(0.93,1)" font-size="8.6" text-anchor="end" font-family='"Liberation Sans", sans-serif' fill="#262626">0.4</text>
<line x1="450.5" y1="258.65" x2="451.9" y2="258.65" stroke="#8c8c8c" stroke-width="1"/>
<line x1="548.7" y1="258.65" x2="547.3000000000001" y2="258.65" stroke="#8c8c8c" stroke-width="1"/>
<text class="tk" transform="translate(447.7,261.95) scale(0.93,1)" font-size="8.6" text-anchor="end" font-family='"Liberation Sans", sans-serif' fill="#262626">0.5</text>
<line x1="450.5" y1="241.73999999999998" x2="451.9" y2="241.73999999999998" stroke="#8c8c8c" stroke-width="1"/>
<line x1="548.7" y1="241.73999999999998" x2="547.3000000000001" y2="241.73999999999998" stroke="#8c8c8c" stroke-width="1"/>
<text class="tk" transform="translate(447.7,245.04) scale(0.93,1)" font-size="8.6" text-anchor="end" font-family='"Liberation Sans", sans-serif' fill="#262626">0.6</text>
<line x1="450.5" y1="224.82999999999998" x2="451.9" y2="224.82999999999998" stroke="#8c8c8c" stroke-width="1"/>
<line x1="548.7" y1="224.82999999999998" x2="547.3000000000001" y2="224.82999999999998" stroke="#8c8c8c" stroke-width="1"/>
<text class="tk" transform="translate(447.7,228.13) scale(0.93,1)" font-size="8.6" text-anchor="end" font-family='"Liberation Sans", sans-serif' fill="#262626">0.7</text>
<line x1="450.5" y1="207.92" x2="451.9" y2="207.92" stroke="#8c8c8c" stroke-width="1"/>
<line x1="548.7" y1="207.92" x2="547.3000000000001" y2="207.92" stroke="#8c8c8c" stroke-width="1"/>
<text class="tk" transform="translate(447.7,211.22) scale(0.93,1)" font-size="8.6" text-anchor="end" font-family='"Liberation Sans", sans-serif' fill="#262626">0.8</text>
<line x1="453.2" y1="343.2" x2="453.2" y2="341.8" stroke="#8c8c8c" stroke-width="1"/>
<line x1="453.2" y1="207.5" x2="453.2" y2="208.9" stroke="#8c8c8c" stroke-width="1"/>
<text class="tk" transform="translate(453.2,354.4) scale(0.93,1)" font-size="8.6" text-anchor="middle" font-family='"Liberation Sans", sans-serif' fill="#262626">0.5</text>
<line x1="499" y1="343.2" x2="499" y2="341.8" stroke="#8c8c8c" stroke-width="1"/>
<line x1="499" y1="207.5" x2="499" y2="208.9" stroke="#8c8c8c" stroke-width="1"/>
<text class="tk" transform="translate(499,354.4) scale(0.93,1)" font-size="8.6" text-anchor="middle" font-family='"Liberation Sans", sans-serif' fill="#262626">1</text>
<line x1="546.1" y1="343.2" x2="546.1" y2="341.8" stroke="#8c8c8c" stroke-width="1"/>
<line x1="546.1" y1="207.5" x2="546.1" y2="208.9" stroke="#8c8c8c" stroke-width="1"/>
<text class="tk" transform="translate(546.1,354.4) scale(0.93,1)" font-size="8.6" text-anchor="middle" font-family='"Liberation Sans", sans-serif' fill="#262626">1.5</text>
<line x1="493.8" y1="210.2" x2="505.8" y2="210.2" stroke="#0000ff" stroke-width="1.8"/>
<line x1="499.8" y1="204.2" x2="499.8" y2="216.2" stroke="#0000ff" stroke-width="1.8"/>
<text x="499.6" y="365.9" font-size="9.6" text-anchor="middle" font-family='"Liberation Serif", serif' font-weight="bold" font-style="normal" fill="#111" >q</text>
<rect x="584.00" y="342.50" width="7.70" height="0.70" fill="#999999" stroke="#3a3a3a" stroke-width="0.6"/>
<rect x="593.00" y="341.40" width="7.40" height="1.80" fill="#999999" stroke="#3a3a3a" stroke-width="0.6"/>
<rect x="601.80" y="341.60" width="7.30" height="1.60" fill="#999999" stroke="#3a3a3a" stroke-width="0.6"/>
<rect x="610.30" y="341.60" width="7.30" height="1.60" fill="#999999" stroke="#3a3a3a" stroke-width="0.6"/>
<rect x="618.80" y="341.40" width="7.30" height="1.80" fill="#999999" stroke="#3a3a3a" stroke-width="0.6"/>
<rect x="627.30" y="340.60" width="7.40" height="2.60" fill="#999999" stroke="#3a3a3a" stroke-width="0.6"/>
<rect x="635.80" y="340.00" width="7.40" height="3.20" fill="#999999" stroke="#3a3a3a" stroke-width="0.6"/>
<rect x="644.30" y="339.40" width="7.40" height="3.80" fill="#999999" stroke="#3a3a3a" stroke-width="0.6"/>
<rect x="653.10" y="338.90" width="7.30" height="4.30" fill="#999999" stroke="#3a3a3a" stroke-width="0.6"/>
<rect x="662.10" y="220.00" width="7.60" height="123.20" fill="#999999" stroke="#3a3a3a" stroke-width="0.6"/>
<rect x="580.0" y="207.5" width="98.5" height="135.7" fill="none" stroke="#8c8c8c" stroke-width="1"/>
<line x1="580.0" y1="343.2" x2="581.4" y2="343.2" stroke="#8c8c8c" stroke-width="1"/>
<line x1="678.5" y1="343.2" x2="677.1" y2="343.2" stroke="#8c8c8c" stroke-width="1"/>
<text class="tk" transform="translate(577.2,346.5) scale(0.93,1)" font-size="8.6" text-anchor="end" font-family='"Liberation Sans", sans-serif' fill="#262626">0</text>
<line x1="580.0" y1="313.7" x2="581.4" y2="313.7" stroke="#8c8c8c" stroke-width="1"/>
<line x1="678.5" y1="313.7" x2="677.1" y2="313.7" stroke="#8c8c8c" stroke-width="1"/>
<text class="tk" transform="translate(577.2,317.0) scale(0.93,1)" font-size="8.6" text-anchor="end" font-family='"Liberation Sans", sans-serif' fill="#262626">0.2</text>
<line x1="580.0" y1="284.1" x2="581.4" y2="284.1" stroke="#8c8c8c" stroke-width="1"/>
<line x1="678.5" y1="284.1" x2="677.1" y2="284.1" stroke="#8c8c8c" stroke-width="1"/>
<text class="tk" transform="translate(577.2,287.40000000000003) scale(0.93,1)" font-size="8.6" text-anchor="end" font-family='"Liberation Sans", sans-serif' fill="#262626">0.4</text>
<line x1="580.0" y1="254.6" x2="581.4" y2="254.6" stroke="#8c8c8c" stroke-width="1"/>
<line x1="678.5" y1="254.6" x2="677.1" y2="254.6" stroke="#8c8c8c" stroke-width="1"/>
<text class="tk" transform="translate(577.2,257.9) scale(0.93,1)" font-size="8.6" text-anchor="end" font-family='"Liberation Sans", sans-serif' fill="#262626">0.6</text>
<line x1="580.0" y1="225.0" x2="581.4" y2="225.0" stroke="#8c8c8c" stroke-width="1"/>
<line x1="678.5" y1="225.0" x2="677.1" y2="225.0" stroke="#8c8c8c" stroke-width="1"/>
<text class="tk" transform="translate(577.2,228.3) scale(0.93,1)" font-size="8.6" text-anchor="end" font-family='"Liberation Sans", sans-serif' fill="#262626">0.8</text>
<line x1="583" y1="343.2" x2="583" y2="341.8" stroke="#8c8c8c" stroke-width="1"/>
<line x1="583" y1="207.5" x2="583" y2="208.9" stroke="#8c8c8c" stroke-width="1"/>
<text class="tk" transform="translate(583,354.4) scale(0.93,1)" font-size="8.6" text-anchor="middle" font-family='"Liberation Sans", sans-serif' fill="#262626">0</text>
<line x1="626.5" y1="343.2" x2="626.5" y2="341.8" stroke="#8c8c8c" stroke-width="1"/>
<line x1="626.5" y1="207.5" x2="626.5" y2="208.9" stroke="#8c8c8c" stroke-width="1"/>
<text class="tk" transform="translate(626.5,354.4) scale(0.93,1)" font-size="8.6" text-anchor="middle" font-family='"Liberation Sans", sans-serif' fill="#262626">0.5</text>
<line x1="670.1" y1="343.2" x2="670.1" y2="341.8" stroke="#8c8c8c" stroke-width="1"/>
<line x1="670.1" y1="207.5" x2="670.1" y2="208.9" stroke="#8c8c8c" stroke-width="1"/>
<text class="tk" transform="translate(670.1,354.4) scale(0.93,1)" font-size="8.6" text-anchor="middle" font-family='"Liberation Sans", sans-serif' fill="#262626">1</text>
<line x1="664.1" y1="210.2" x2="676.1" y2="210.2" stroke="#0000ff" stroke-width="1.8"/>
<line x1="670.1" y1="204.2" x2="670.1" y2="216.2" stroke="#0000ff" stroke-width="1.8"/>
<text x="629" y="365.9" font-size="9.6" text-anchor="middle" font-family='"Liberation Serif", serif' font-weight="bold" font-style="normal" fill="#111" ><tspan font-style="italic">μ</tspan></text>
<text x="0" y="0" font-size="9.6" text-anchor="middle" font-family='"Liberation Serif", serif' font-weight="bold" font-style="normal" fill="#111" transform="translate(43.2,274.8) rotate(-90)">Marginal density</text>
</svg></div>
</body></html>
